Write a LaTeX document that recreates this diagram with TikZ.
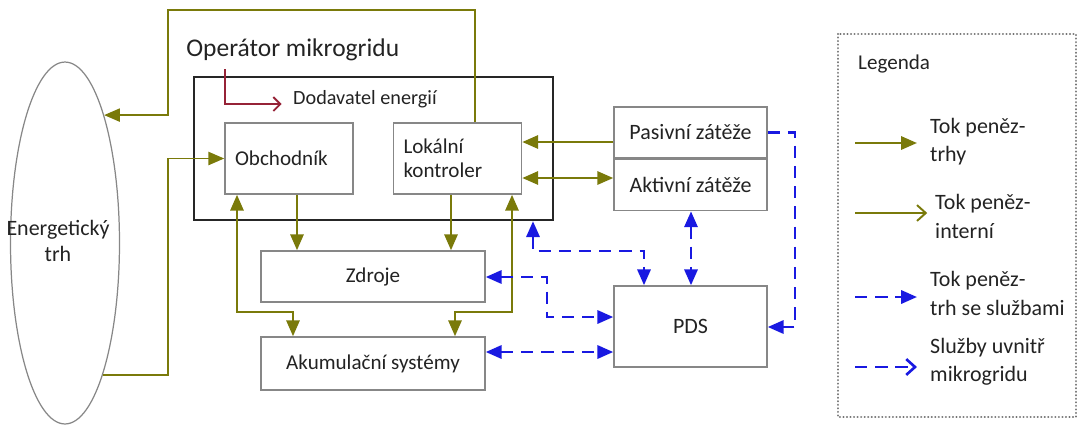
\documentclass[tikz,border=0pt]{standalone}
\usepackage{fontspec}
\setmainfont{Carlito}
\usepackage{xcolor}
\usepackage{tikz}
\usetikzlibrary{shapes.geometric,arrows.meta,positioning,calc}

\definecolor{mgolive}{RGB}{122,122,10}
\definecolor{mgblue}{RGB}{25,25,225}
\definecolor{mgred}{RGB}{150,35,55}
\definecolor{boxline}{RGB}{135,135,135}
\definecolor{txt}{RGB}{35,35,35}

\begin{document}
\begin{tikzpicture}[x=0.02cm, y=-0.02cm,
    font=\fontsize{12}{13.5}\selectfont, text=txt,
    box/.style={rectangle, draw=boxline, line width=0.9pt, minimum width=4.48cm, minimum height=1.02cm, align=center},
    unit/.style={rectangle, draw=boxline, line width=0.9pt, minimum height=1.42cm, text width=2.16cm, inner xsep=0.2cm, align=left},
    load/.style={box, minimum width=3.06cm, font=\fontsize{12.5}{14}\selectfont},
    frame/.style={rectangle, draw=black!85, line width=1.4pt, minimum width=7.18cm, minimum height=2.86cm},
    money/.style={->, >={Triangle[length=9pt,width=7.5pt]}, line width=1.3pt, draw=mgolive},
    serv/.style={->, >={Triangle[length=9pt,width=7.5pt]}, line width=1.5pt, draw=mgblue, dash pattern=on 7pt off 4.5pt},
    legtext/.style={align=left, anchor=west, font=\fontsize{12.5}{16}\selectfont}
]
\useasboundingbox (0,0) rectangle (1081,427);

% Market
\node[ellipse, draw=boxline, line width=0.7pt, minimum width=2.18cm, minimum height=7.24cm] (market) at (65,243) {};
\node[align=center, font=\fontsize{12.5}{15.3}\selectfont] (markettext) at (58,241) {Energetický\\trh};

% Operator
\node[anchor=west, inner sep=0pt, font=\fontsize{14.5}{17}\selectfont] (oper) at (186,50) {Operátor mikrogridu};
\node[frame] (opbox) at (373.5,148.5) {};
\node[anchor=base west, font=\fontsize{11.5}{13}\selectfont] (dodav) at (287,104) {Dodavatel energií};
\node[unit] (obch) at (289,158.5) {Obchodník};
\node[unit] (lok) at (457.5,158.5) {Lokální\\kontroler};

% Loads, sources, storage
\node[load] (pasiv) at (690.5,132.5) {Pasivní zátěže};
\node[load, below=0pt of pasiv] (aktiv) {Aktivní zátěže};
\node[box] (zdroje) at (373,276.5) {Zdroje};
\node[box, minimum height=1.06cm] (akum) at (373,363.5) {Akumulační systémy};
\node[load, minimum height=1.62cm] (pds) at (690.5,326.5) {PDS};

% Legend
\draw[black!55, line width=1.3pt, dash pattern=on 0.01pt off 2pt, line cap=round] (838,34) rectangle (1076,417);
\node[anchor=west, font=\fontsize{12}{14}\selectfont] (legtitle) at (852,64) {Legenda};
\node[legtext] (lab1) at (924,141.5) {Tok peněz-\\trhy};
\node[legtext] (lab2) at (929,216.5) {Tok peněz-\\interní};
\node[legtext] (lab3) at (924,293.5) {Tok peněz-\\trh se službami};
\node[legtext] (lab4) at (924,361.5) {Služby uvnitř\\mikrogridu};
\coordinate (key1) at (855,143);
\coordinate (key2) at (855,213);
\coordinate (key3) at (855,297);
\coordinate (key4) at (855,367);
\draw[money, shorten >=4pt] (key1) -- (lab1.west |- key1);
\draw[money, -{Straight Barb[length=5pt,width=9pt]}, line width=1.1pt, shorten >=1pt] (key2) -- (lab2.west |- key2);
\draw[serv, shorten >=4pt] (key3) -- (lab3.west |- key3);
\draw[serv, -{Straight Barb[length=5pt,width=9pt]}, shorten >=4pt] (key4) -- (lab4.west |- key4);

% Money flows
\draw[money, line width=1pt] (475,0 |- lok.north) |- (168,10) |- (market.73);
\draw[money, line width=1pt] (market.-74) -| (168,0 |- obch.west) -- (obch.west);
\draw[money] (pasiv.west |- 0,142) -- (lok.east |- 0,142);
\draw[money, <->] (lok.east |- 0,178) -- (aktiv.west |- 0,178);
\draw[money] (297,0 |- obch.south) -- (297,0 |- zdroje.north);
\draw[money] (451,0 |- lok.south) -- (451,0 |- zdroje.north);
\draw[money, <->] (237,0 |- obch.south) |- (293,312) -- (293,0 |- akum.north);
\draw[money, <->] (512,0 |- lok.south) |- (455,312) -- (455,0 |- akum.north);

% Services
\draw[serv, <->] (533,0 |- opbox.south) |- (644,251) -- (644,0 |- pds.north);
\draw[serv, <->] (aktiv.south -| 691,0) -- (pds.north -| 691,0);
\draw[serv, <->] (zdroje.east |- 0,277) -| (547,317) -- (pds.west |- 0,317);
\draw[serv, <->] (akum.east |- 0,352) -- (pds.west |- 0,352);
\draw[serv] (pasiv.east) -| (795,327) -- (pds.east |- 0,327);

% Supplier
\draw[mgred, line width=1.1pt, -{Straight Barb[length=4pt,width=8pt]}, shorten >=3pt] ([yshift=-4.5pt]225,0 |- oper.south) |- (dodav.base west);

\end{tikzpicture}
\end{document}
